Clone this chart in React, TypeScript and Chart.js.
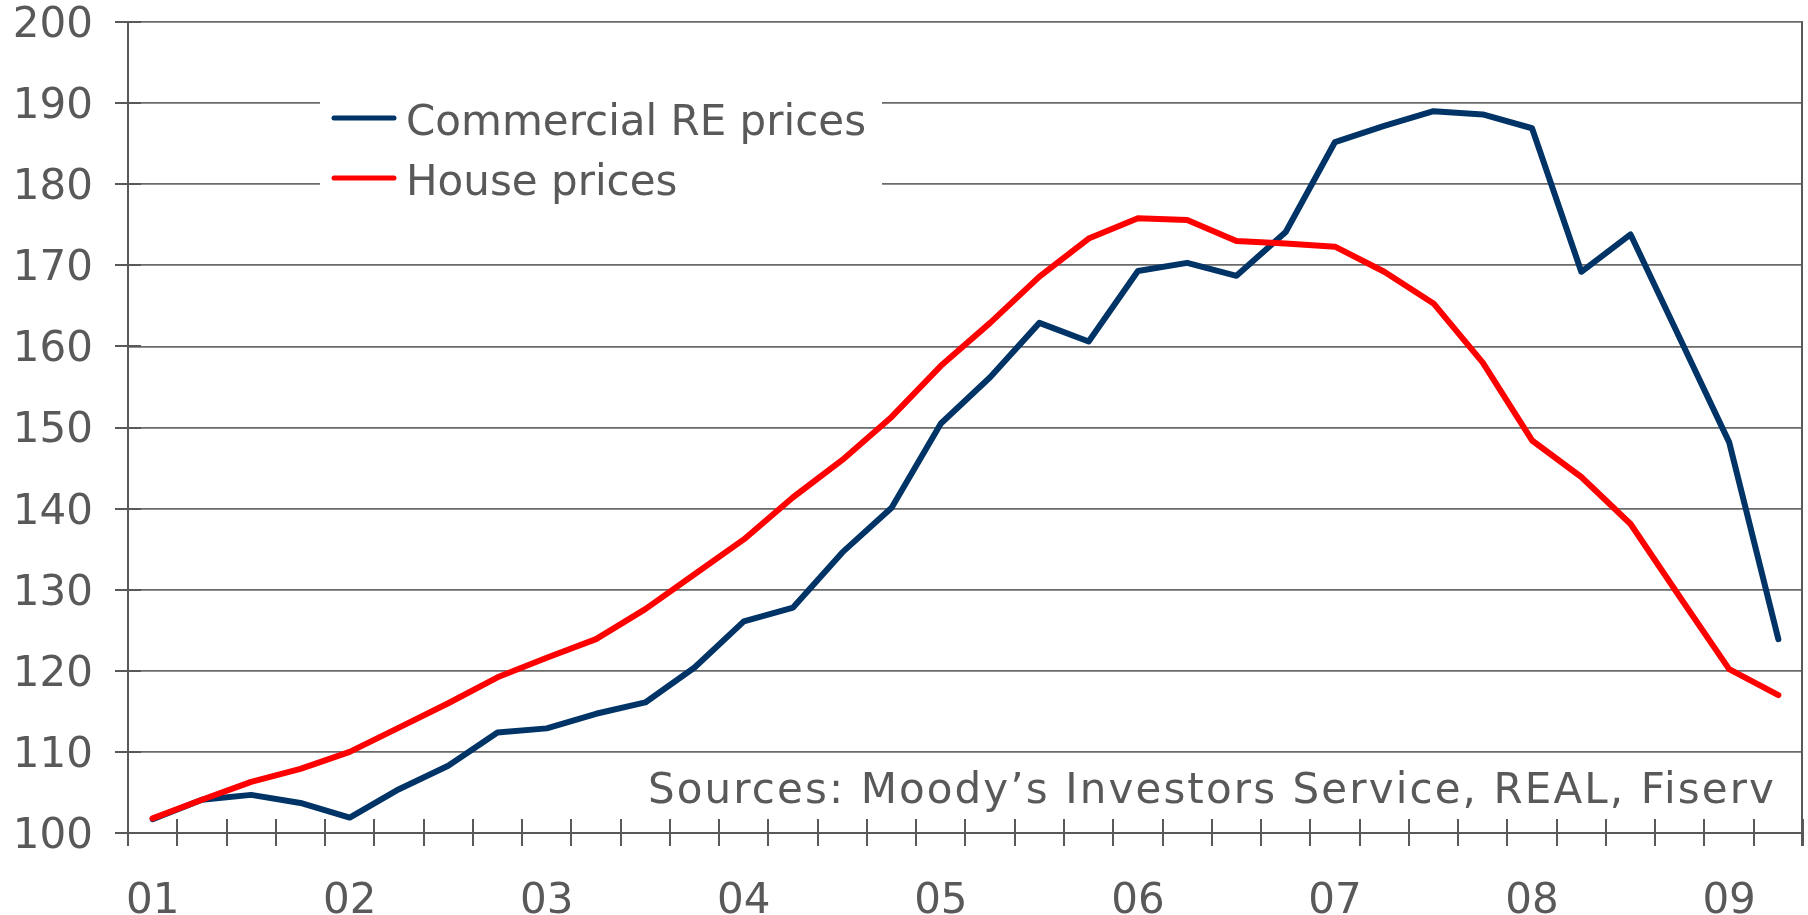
import React, { useEffect, useRef } from 'react';
import { Chart, registerables } from 'chart.js';

Chart.register(...registerables);

// ---- Data ----
const categories = [
  '2001 Q1', '2001 Q2', '2001 Q3', '2001 Q4',
  '2002 Q1', '2002 Q2', '2002 Q3', '2002 Q4',
  '2003 Q1', '2003 Q2', '2003 Q3', '2003 Q4',
  '2004 Q1', '2004 Q2', '2004 Q3', '2004 Q4',
  '2005 Q1', '2005 Q2', '2005 Q3', '2005 Q4',
  '2006 Q1', '2006 Q2', '2006 Q3', '2006 Q4',
  '2007 Q1', '2007 Q2', '2007 Q3', '2007 Q4',
  '2008 Q1', '2008 Q2', '2008 Q3', '2008 Q4',
  '2009 Q1', '2009 Q2',
];

const xTickLabels = [
  '01', '', '', '',
  '02', '', '', '',
  '03', '', '', '',
  '04', '', '', '',
  '05', '', '', '',
  '06', '', '', '',
  '07', '', '', '',
  '08', '', '', '',
  '09', '',
];

const commercialRE = [
  101.7, 104.1, 104.7, 103.7,
  101.9, 105.4, 108.3, 112.4,
  112.9, 114.7, 116.1, 120.4,
  126.1, 127.8, 134.6, 140.1,
  150.5, 156.2, 162.9, 160.6,
  169.3, 170.3, 168.7, 174.1,
  185.2, 187.2, 189.0, 188.6,
  186.9, 169.2, 173.8, 161.0,
  148.2, 123.9,
];

const housePrices = [
  101.8, 104.1, 106.3, 107.9,
  110.0, 113.0, 116.0, 119.2,
  121.6, 123.9, 127.6, 131.9,
  136.2, 141.4, 146.0, 151.3,
  157.6, 162.9, 168.6, 173.3,
  175.8, 175.6, 173.0, 172.7,
  172.3, 169.2, 165.3, 158.0,
  148.4, 143.9, 138.1, 129.1,
  120.2, 117.0,
];

const seriesNames = ['Commercial RE prices', 'House prices'];
const yMin = 100;
const yMax = 200;
const yStep = 10;
const sourceNote = 'Sources: Moody\u2019s Investors Service, REAL, Fiserv';

// ---- Styles ----
const FONT_FAMILY = '"DejaVu Sans", "Verdana", sans-serif';
const FONT_SIZE = 42;
const TEXT_COLOR = '#595959';
const AXIS_COLOR = '#595959';
const GRID_COLOR = '#6a6a6a';
const BLUE = '#003366';
const RED = '#ff0000';

const decorPlugin = {
  id: 'decor',
  beforeDatasetsDraw(chart: any) {
    const { ctx, chartArea, scales } = chart;
    const xs = scales.x;
    const ys = scales.y;
    ctx.save();
    ctx.strokeStyle = AXIS_COLOR;
    ctx.lineWidth = 2;
    ctx.lineCap = 'butt';

    // y tick marks crossing the axis
    ys.ticks.forEach((t: any) => {
      const py = Math.round(ys.getPixelForValue(t.value));
      ctx.beginPath();
      ctx.moveTo(chartArea.left - 13, py);
      ctx.lineTo(chartArea.left + 13, py);
      ctx.stroke();
    });

    // x tick marks at category boundaries, crossing the axis
    const n = xs.ticks.length;
    const half = (xs.getPixelForTick(1) - xs.getPixelForTick(0)) / 2;
    for (let i = 0; i <= n; i++) {
      const px = i < n ? xs.getPixelForTick(i) - half : xs.getPixelForTick(n - 1) + half;
      const rx = Math.round(px);
      ctx.beginPath();
      ctx.moveTo(rx, chartArea.bottom - 14);
      ctx.lineTo(rx, chartArea.bottom + 13);
      ctx.stroke();
    }

    // right border
    ctx.beginPath();
    ctx.moveTo(chartArea.right - 1, chartArea.top);
    ctx.lineTo(chartArea.right - 1, chartArea.bottom + 13);
    ctx.stroke();

    // y axis line extended below the x axis
    ctx.beginPath();
    ctx.moveTo(chartArea.left, chartArea.top);
    ctx.lineTo(chartArea.left, chartArea.bottom + 13);
    ctx.stroke();

    // legend box
    ctx.fillStyle = '#ffffff';
    ctx.fillRect(320, 84, 562, 118);
    const legendColors = [BLUE, RED];
    const rowY = [118, 178];
    const baseY = [135, 195];
    ctx.font = `${FONT_SIZE}px ${FONT_FAMILY}`;
    ctx.textAlign = 'left';
    ctx.textBaseline = 'alphabetic';
    seriesNames.forEach((name, i) => {
      ctx.strokeStyle = legendColors[i];
      ctx.lineWidth = 5;
      ctx.lineCap = 'round';
      ctx.beginPath();
      ctx.moveTo(334, rowY[i]);
      ctx.lineTo(394, rowY[i]);
      ctx.stroke();
      ctx.fillStyle = TEXT_COLOR;
      ctx.fillText(name, 406, baseY[i]);
    });

    // source note: left at 648, stretched by letter spacing to end at ~1776
    const startX = 648;
    const targetW = 1128;
    const c: any = ctx;
    c.letterSpacing = '0px';
    const w0 = ctx.measureText(sourceNote).width;
    let sp = (targetW - w0) / sourceNote.length;
    c.letterSpacing = `${sp}px`;
    const w1 = ctx.measureText(sourceNote).width;
    if (w1 - w0 > 1) {
      sp = sp * (targetW - w0) / (w1 - w0);
      c.letterSpacing = `${sp}px`;
    }
    ctx.textAlign = 'left';
    ctx.fillText(sourceNote, startX, 803);
    c.letterSpacing = '0px';
    ctx.restore();
  },
};

export default function App() {
  const canvasRef = useRef<HTMLCanvasElement | null>(null);

  useEffect(() => {
    const canvas = canvasRef.current;
    if (!canvas) return;
    const chart = new Chart(canvas, {
      type: 'line',
      data: {
        labels: categories,
        datasets: [
          {
            label: seriesNames[0],
            data: commercialRE,
            borderColor: BLUE,
            backgroundColor: BLUE,
            borderWidth: 6,
            pointRadius: 0,
            tension: 0,
            borderJoinStyle: 'round',
            borderCapStyle: 'round',
            order: 2,
          },
          {
            label: seriesNames[1],
            data: housePrices,
            borderColor: RED,
            backgroundColor: RED,
            borderWidth: 6,
            pointRadius: 0,
            tension: 0,
            borderJoinStyle: 'round',
            borderCapStyle: 'round',
            order: 1,
          },
        ],
      },
      options: {
        responsive: false,
        animation: false,
        devicePixelRatio: 1,
        layout: { padding: { left: 0, right: 5, top: 22, bottom: 0 } },
        plugins: {
          legend: { display: false },
          tooltip: { enabled: false },
        },
        scales: {
          x: {
            type: 'category',
            offset: true,
            grid: { display: false, drawTicks: false },
            border: { display: true, color: AXIS_COLOR, width: 2 },
            ticks: {
              autoSkip: false,
              maxRotation: 0,
              minRotation: 0,
              padding: 44,
              color: TEXT_COLOR,
              font: { family: FONT_FAMILY, size: FONT_SIZE },
              callback: (_v: any, i: number) => xTickLabels[i],
            },
            afterFit: (s: any) => {
              s.height = 82;
              s.paddingLeft = 0;
              s.paddingRight = 0;
            },
          },
          y: {
            min: yMin,
            max: yMax,
            grid: { color: GRID_COLOR, lineWidth: 1.8, drawTicks: false },
            border: { display: true, color: AXIS_COLOR, width: 2 },
            ticks: {
              stepSize: yStep,
              padding: 35,
              labelOffset: 4,
              color: TEXT_COLOR,
              font: { family: FONT_FAMILY, size: FONT_SIZE },
            },
            afterFit: (s: any) => {
              s.width = 128;
              s.paddingTop = 0;
              s.paddingBottom = 0;
            },
          },
        },
      },
      plugins: [decorPlugin],
    });
    return () => chart.destroy();
  }, []);

  return (
    <div style={{ position: 'fixed', left: 0, top: 0, width: 1808, height: 915, background: '#fff' }}>
      <canvas ref={canvasRef} width={1808} height={915} />
    </div>
  );
}
